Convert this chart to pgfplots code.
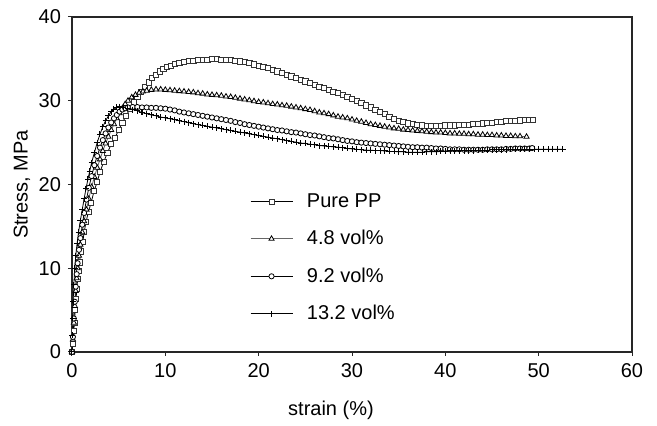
\documentclass[border=0pt]{standalone}
\usepackage{pgfplots}
\pgfplotsset{compat=1.18}
\usepackage{pgfplotstable}
\usepackage{fontspec}
\setmainfont{Liberation Sans}

\pgfplotstableread{
x y
0 0
0.1 1.0
0.2 2.5
0.25 3.5
0.35 5.0
0.43 6.3
0.52 7.5
0.6 8.7
0.7 9.7
0.8 10.7
0.95 12.0
1.15 13.1
1.3 14.3
1.5 15.5
1.75 16.7
2.04 17.8
2.36 19.2
2.7 20.3
3.0 21.5
3.4 22.7
3.8 23.8
4.2 24.8
4.6 25.6
5.0 26.5
5.4 27.4
5.8 28.2
6.2 29.0
6.6 29.8
7.0 30.5
7.4 31.1
7.8 31.7
8.2 32.2
8.6 32.7
9.0 33.1
9.4 33.5
9.8 33.8
10.2 34.0
10.6 34.2
11.0 34.4
11.5 34.55
12 34.65
12.5 34.75
13 34.8
13.5 34.85
14 34.9
14.5 34.9
15 34.95
15.5 34.95
16 34.9
16.5 34.9
17 34.85
17.5 34.8
18 34.7
18.5 34.6
19 34.5
19.5 34.35
20 34.2
20.5 34.05
21 33.9
21.5 33.7
22 33.5
22.5 33.3
23 33.1
23.5 32.9
24 32.7
24.5 32.5
25 32.3
25.5 32.1
26 31.9
26.5 31.7
27 31.5
27.5 31.3
28 31.1
28.5 30.9
29 30.7
29.5 30.45
30 30.2
30.5 29.95
31 29.7
31.5 29.45
32 29.2
32.5 28.95
33 28.7
33.5 28.4
34 28.1
34.5 27.85
35 27.6
35.5 27.45
36 27.3
36.5 27.2
37 27.1
37.5 27.05
38 27.0
38.5 27.0
39 27.0
39.5 27.0
40 27.05
40.5 27.05
41 27.05
41.5 27.1
42 27.1
42.5 27.15
43 27.2
43.5 27.25
44 27.3
44.5 27.35
45 27.4
45.5 27.45
46 27.5
46.5 27.55
47 27.6
47.5 27.6
48 27.65
48.5 27.7
49 27.7
49.4 27.75
}\purepp

\pgfplotstableread{
x y
0 0
0.1 1.5
0.2 3.5
0.3 5.5
0.4 7.3
0.5 8.8
0.6 10.0
0.75 11.5
0.9 12.8
1.1 14.3
1.3 15.6
1.55 17.0
1.8 18.3
2.1 19.7
2.4 20.9
2.7 22.0
3.0 23.0
3.3 24.0
3.6 24.9
3.9 25.7
4.2 26.5
4.5 27.2
4.8 27.9
5.1 28.5
5.4 29.1
5.7 29.6
6.0 30.0
6.4 30.4
6.8 30.7
7.2 30.95
7.6 31.1
8.0 31.2
8.5 31.3
9.0 31.35
9.5 31.35
10 31.3
10.5 31.25
11 31.2
11.5 31.15
12 31.1
12.5 31.05
13 31.0
13.5 30.9
14 30.85
14.5 30.75
15 30.7
15.5 30.65
16 30.6
16.5 30.5
17 30.45
17.5 30.35
18 30.25
18.5 30.15
19 30.05
19.5 29.95
20 29.85
20.5 29.8
21 29.7
21.5 29.6
22 29.55
22.5 29.45
23 29.4
23.5 29.3
24 29.2
24.5 29.1
25 29.0
25.5 28.9
26 28.75
26.5 28.6
27 28.5
27.5 28.4
28 28.25
28.5 28.1
29 28.0
29.5 27.9
30 27.75
30.5 27.6
31 27.5
31.5 27.35
32 27.2
32.5 27.1
33 27.0
33.5 26.9
34 26.8
34.5 26.7
35 26.65
35.5 26.55
36 26.5
36.5 26.45
37 26.4
37.5 26.35
38 26.3
38.5 26.25
39 26.2
39.5 26.2
40 26.15
40.5 26.1
41 26.1
41.5 26.05
42 26.05
42.5 26.0
43 26.0
43.5 25.95
44 25.95
44.5 25.9
45 25.9
45.5 25.85
46 25.85
46.5 25.8
47 25.8
47.5 25.75
48 25.75
48.7 25.7
}\volA

\pgfplotstableread{
x y
0 0
0.1 1.8
0.2 4.0
0.3 6.0
0.4 7.8
0.5 9.3
0.6 10.6
0.75 12.2
0.9 13.6
1.1 15.2
1.3 16.6
1.55 18.2
1.8 19.6
2.1 21.0
2.4 22.3
2.7 23.4
3.0 24.4
3.3 25.3
3.6 26.1
3.9 26.8
4.2 27.4
4.5 27.9
4.8 28.3
5.1 28.7
5.4 28.95
5.7 29.1
6.0 29.2
6.5 29.25
7.0 29.25
7.5 29.2
8.0 29.2
8.5 29.15
9.0 29.15
9.5 29.1
10 29.05
10.5 28.95
11 28.85
11.5 28.7
12 28.6
12.5 28.5
13 28.4
13.5 28.3
14 28.2
14.5 28.1
15 28.0
15.5 27.9
16 27.8
16.5 27.7
17 27.6
17.5 27.45
18 27.35
18.5 27.2
19 27.1
19.5 27.0
20 26.9
20.5 26.8
21 26.7
21.5 26.6
22 26.5
22.5 26.45
23 26.35
23.5 26.25
24 26.2
24.5 26.1
25 26.0
25.5 25.9
26 25.85
26.5 25.75
27 25.65
27.5 25.55
28 25.5
28.5 25.4
29 25.3
29.5 25.2
30 25.15
30.5 25.05
31 25.0
31.5 24.95
32 24.9
32.5 24.85
33 24.8
33.5 24.75
34 24.7
34.5 24.65
35 24.6
35.5 24.55
36 24.5
36.5 24.45
37 24.45
37.5 24.4
38 24.4
38.5 24.35
39 24.3
39.5 24.3
40 24.25
40.5 24.2
41 24.2
41.5 24.2
42 24.15
42.5 24.15
43 24.15
43.5 24.15
44 24.15
44.5 24.2
45 24.2
45.5 24.2
46 24.2
46.5 24.25
47 24.25
47.5 24.3
48 24.3
48.5 24.3
49 24.3
49.3 24.35
}\volB

\pgfplotstableread{
x y
0 0
0.05 2.0
0.1 4.0
0.15 6.0
0.2 8.0
0.3 10.0
0.4 11.5
0.55 13.0
0.7 14.3
0.9 15.7
1.1 17.0
1.3 18.3
1.5 19.5
1.7 20.6
1.9 21.6
2.1 22.6
2.4 23.8
2.7 25.0
3.0 26.0
3.3 26.9
3.6 27.6
3.9 28.2
4.2 28.7
4.5 29.0
4.8 29.2
5.1 29.3
5.5 29.25
6.0 29.1
6.5 28.95
7.0 28.8
7.5 28.6
8.0 28.45
8.5 28.3
9.0 28.2
9.5 28.05
10 27.95
10.5 27.85
11 27.75
11.5 27.6
12 27.5
12.5 27.4
13 27.25
13.5 27.15
14 27.05
14.5 26.95
15 26.85
15.5 26.75
16 26.65
16.5 26.55
17 26.45
17.5 26.35
18 26.25
18.5 26.15
19 26.05
19.5 25.95
20 25.85
20.5 25.75
21 25.65
21.5 25.55
22 25.45
22.5 25.35
23 25.25
23.5 25.15
24 25.05
24.5 24.95
25 24.9
25.5 24.8
26 24.75
26.5 24.65
27 24.6
27.5 24.55
28 24.5
28.5 24.45
29 24.4
29.5 24.3
30 24.25
30.5 24.2
31 24.15
31.5 24.1
32 24.1
32.5 24.05
33 24.05
33.5 24.0
34 23.95
34.5 23.95
35 23.9
35.5 23.9
36 23.85
36.5 23.85
37 23.85
37.5 23.85
38 23.9
38.5 23.9
39 23.9
39.5 23.95
40 23.95
40.5 24.0
41 24.0
41.5 24.0
42 24.05
42.5 24.05
43 24.05
43.5 24.1
44 24.1
44.5 24.1
45 24.15
45.5 24.15
46 24.15
46.5 24.15
47 24.2
47.5 24.2
48 24.2
48.5 24.2
49 24.2
49.5 24.2
50 24.2
50.5 24.2
51 24.2
51.5 24.2
52 24.2
52.6 24.2
}\volC

\begin{document}
\begin{tikzpicture}
\begin{axis}[
  name=ax,
  scale only axis,
  width=280pt, height=167.5pt,
  xmin=0, xmax=60, ymin=0, ymax=40,
  xtick={0,10,...,60}, ytick={0,10,...,40},
  tick align=outside, xtick pos=left, ytick pos=left,
  major tick length=2pt,
  axis line style={line width=0.6pt, black!85},
  tick style={black!85, line width=0.5pt},
  /pgf/number format/assume math mode=true,
  tick label style={font=\fontsize{10}{12}\selectfont},
  label style={font=\fontsize{10}{12}\selectfont},
  xlabel={strain (\%)},
  ylabel={Stress, MPa},
  xlabel style={at={(axis description cs:0.4625,0)}, anchor=center, yshift=-29pt},
  ylabel style={at={(axis description cs:-0.0893,0.5)}, anchor=center},
  legend style={draw=none, fill=none, at={(axis cs:18.4,19.95)}, anchor=north west,
    font=\fontsize{10}{12}\selectfont, row sep=6pt,
    /tikz/every odd column/.append style={column sep=5pt}},
  legend cell align=left,
  legend image code/.code={\draw[#1, mark repeat=2, mark phase=2] plot coordinates {(0pt,0pt) (10.5pt,0pt) (21pt,0pt)};},
]
\addplot[black, line width=0.4pt, mark=square*, mark size=1.3pt,
  mark options={fill=white, draw=black!80, line width=0.4pt}] table {\purepp};
\addlegendentry{Pure PP}
\addplot[black!60, line width=0.4pt, mark=triangle*, mark size=1.5pt,
  mark options={fill=white, draw=black, line width=0.4pt}] table {\volA};
\addlegendentry{4.8 vol\%}
\addplot[black, line width=0.4pt, mark=*, mark size=1.3pt,
  mark options={fill=white, draw=black, line width=0.4pt}] table {\volB};
\addlegendentry{9.2 vol\%}
\addplot[black, line width=0.4pt, mark=+, mark size=1.5pt,
  mark options={draw=black, line width=0.5pt}] table {\volC};
\addlegendentry{13.2 vol\%}
\end{axis}
\path ([shift={(-36pt,-36.5pt)}]ax.south west) rectangle ([shift={(12.5pt,8.5pt)}]ax.north east);
\end{tikzpicture}
\end{document}
